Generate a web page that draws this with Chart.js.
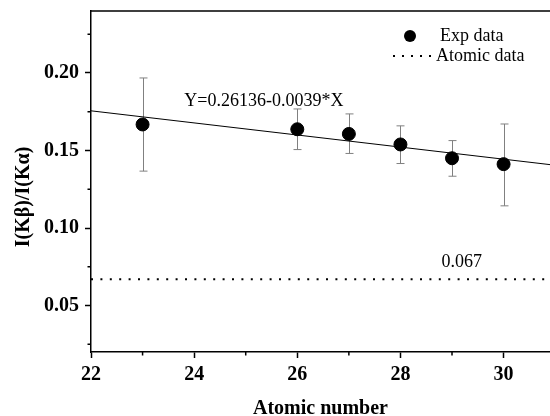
<!DOCTYPE html>
<html>
<head>
<meta charset="utf-8">
<script src="https://cdn.jsdelivr.net/npm/chart.js@4"></script>
<style>
  html, body { margin: 0; padding: 0; background: #fff; }
  #wrap { width: 550px; height: 416px; }
</style>
</head>
<body>
<div id="wrap"><canvas id="myChart"></canvas></div>
<script>
const atomicNumber = [23, 26, 27, 28, 29, 30];
const ratio = [0.1668, 0.1637, 0.1607, 0.1539, 0.1450, 0.1412];
const errLow = [0.1367, 0.1506, 0.1481, 0.1416, 0.1334, 0.1143];
const errHigh = [0.1968, 0.1768, 0.1736, 0.1659, 0.1564, 0.1671];

const fitX = [22, 31];
const fitY = [0.1756, 0.1405];
const atomicX = [22, 31];
const atomicY = [0.067, 0.067];

const xTicks = [22, 24, 26, 28, 30];
const yTicks = [0.05, 0.10, 0.15, 0.20];
const xMinor = [23, 25, 27, 29];
const yMinor = [0.025, 0.075, 0.125, 0.175, 0.225];

const serif = '"Liberation Serif", "Times New Roman", serif';

// error bars, minor ticks, top frame, legend and labels
const extras = {
  id: 'extras',
  beforeDatasetsDraw(chart) {
    const ctx = chart.ctx, x = chart.scales.x, y = chart.scales.y;
    ctx.save();
    ctx.strokeStyle = '#808080';
    ctx.lineWidth = 1;
    atomicNumber.forEach((v, i) => {
      const px = Math.round(x.getPixelForValue(v)) + 0.5;
      const top = y.getPixelForValue(errHigh[i]);
      const bot = y.getPixelForValue(errLow[i]);
      ctx.beginPath();
      ctx.moveTo(px, top); ctx.lineTo(px, bot);
      ctx.moveTo(px - 4, top); ctx.lineTo(px + 4, top);
      ctx.moveTo(px - 4, bot); ctx.lineTo(px + 4, bot);
      ctx.stroke();
    });
    ctx.restore();
  },
  afterDraw(chart) {
    const ctx = chart.ctx, a = chart.chartArea, x = chart.scales.x, y = chart.scales.y;
    ctx.save();
    ctx.strokeStyle = '#000';
    ctx.lineWidth = 1.5;
    ctx.beginPath();
    ctx.moveTo(a.left, a.top); ctx.lineTo(a.right, a.top);
    xMinor.forEach(v => {
      const px = x.getPixelForValue(v);
      ctx.moveTo(px, a.bottom); ctx.lineTo(px, a.bottom + 3.5);
    });
    yMinor.forEach(v => {
      const py = y.getPixelForValue(v);
      ctx.moveTo(a.left, py); ctx.lineTo(a.left - 3.5, py);
    });
    ctx.stroke();

    ctx.fillStyle = '#000';
    ctx.font = '18px ' + serif;
    ctx.textBaseline = 'middle';
    ctx.textAlign = 'left';
    ctx.fillText('Y=0.26136-0.0039*X', x.getPixelForValue(23.81), y.getPixelForValue(0.1818));
    ctx.textAlign = 'center';
    ctx.fillText('0.067', x.getPixelForValue(29.19), y.getPixelForValue(0.078));

    // legend
    const lx = a.right - 140, ly = a.top + 25;
    ctx.beginPath();
    ctx.arc(lx, ly, 6, 0, Math.PI * 2);
    ctx.fill();
    ctx.textAlign = 'left';
    ctx.fillText('Exp data', lx + 30, ly);
    ctx.lineWidth = 2;
    ctx.setLineDash([2, 7]);
    ctx.beginPath();
    ctx.moveTo(lx - 17, ly + 20); ctx.lineTo(lx + 22, ly + 20);
    ctx.stroke();
    ctx.setLineDash([]);
    ctx.fillText('Atomic data', lx + 26, ly + 20);

    // y axis title, sits a bit below the middle like the original
    ctx.translate(24, a.top + 186);
    ctx.rotate(-Math.PI / 2);
    ctx.textAlign = 'center';
    ctx.font = 'bold 20px ' + serif;
    ctx.fillText('I(Kβ)/I(Kα)', 0, 0);
    ctx.restore();
  }
};

const data = {
  datasets: [
    {
      label: 'Exp data',
      type: 'scatter',
      data: atomicNumber.map((v, i) => ({ x: v, y: ratio[i] })),
      backgroundColor: '#000',
      borderColor: '#000',
      pointRadius: 6.5,
      order: 0
    },
    {
      label: 'Fit',
      type: 'line',
      data: fitX.map((v, i) => ({ x: v, y: fitY[i] })),
      borderColor: '#000',
      borderWidth: 1,
      pointRadius: 0,
      order: 1
    },
    {
      label: 'Atomic data',
      type: 'line',
      data: atomicX.map((v, i) => ({ x: v, y: atomicY[i] })),
      borderColor: '#000',
      borderWidth: 2,
      borderDash: [2, 7.4],
      pointRadius: 0,
      order: 2
    }
  ]
};

const config = {
  type: 'scatter',
  data: data,
  options: {
    responsive: true,
    maintainAspectRatio: false,
    animation: false,
    layout: { autoPadding: false, padding: { top: 11, right: 0, left: 0, bottom: 0 } },
    plugins: {
      legend: { display: false },
      tooltip: { enabled: false }
    },
    scales: {
      x: {
        type: 'linear',
        min: 22,
        max: 30.9,
        afterBuildTicks: s => { s.ticks = xTicks.map(v => ({ value: v })); },
        afterFit: s => { s.height = 64; s.paddingLeft = 0; s.paddingRight = 0; },
        border: { color: '#000', width: 1.5 },
        grid: { drawOnChartArea: false, tickLength: 6, tickColor: '#000', tickWidth: 1.5 },
        ticks: {
          color: '#000',
          padding: 5,
          font: { family: serif, size: 20, weight: 'bold' }
        },
        title: {
          display: true,
          text: 'Atomic number',
          color: '#000',
          padding: { top: 0, bottom: -3 },
          font: { family: serif, size: 20, weight: 'bold', lineHeight: 1 }
        }
      },
      y: {
        type: 'linear',
        min: 0.02,
        max: 0.24,
        afterBuildTicks: s => { s.ticks = yTicks.map(v => ({ value: v })); },
        afterFit: s => { s.width = 91; s.paddingTop = 0; s.paddingBottom = 0; },
        border: { color: '#000', width: 1.5 },
        grid: { drawOnChartArea: false, tickLength: 6, tickColor: '#000', tickWidth: 1.5 },
        ticks: {
          color: '#000',
          padding: 6,
          font: { family: serif, size: 20, weight: 'bold' },
          callback: v => v.toFixed(2)
        }
      }
    }
  },
  plugins: [extras]
};

const myChart = new Chart(document.getElementById('myChart'), config);
</script>
</body>
</html>
